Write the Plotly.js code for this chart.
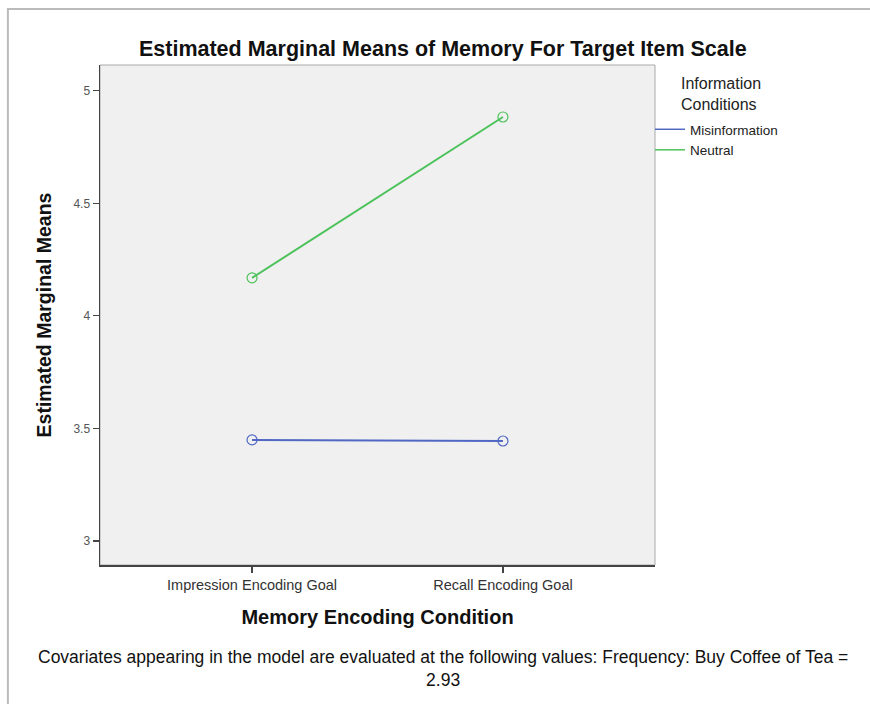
<!DOCTYPE html>
<html>
<head>
<meta charset="utf-8">
<script src="https://cdn.plot.ly/plotly-3.0.1.min.js"></script>
<style>html,body{margin:0;padding:0;background:#fff;}#chart{width:870px;height:704px;}</style>
</head>
<body>
<div id="chart"></div>
<script>
const categories = ["Impression Encoding Goal", "Recall Encoding Goal"];
const misinformation = [3.449, 3.444];
const neutral = [4.169, 4.884];
const seriesNames = ["Misinformation", "Neutral"];
const legendTitle = "Information<br>Conditions";
const yTickVals = [3, 3.5, 4, 4.5, 5];
const yTickText = ["3", "3.5", "4", "4.5", "5"];

const blue = "#5068c4";
const green = "#4cc25a";
const font = "Liberation Sans, Arial, sans-serif";

const traces = [
  {x: categories, y: misinformation, type: "scatter", mode: "lines+markers", name: seriesNames[0],
   line: {color: blue, width: 2}, marker: {symbol: "circle-open", size: 10, color: blue, line: {width: 1.2}}, showlegend: false},
  {x: categories, y: neutral, type: "scatter", mode: "lines+markers", name: seriesNames[1],
   line: {color: green, width: 2}, marker: {symbol: "circle-open", size: 10, color: green, line: {width: 1.2}}, showlegend: false},
  {x: [null], y: [null], type: "scatter", mode: "lines", name: seriesNames[0], line: {color: blue, width: 1.5}},
  {x: [null], y: [null], type: "scatter", mode: "lines", name: seriesNames[1], line: {color: green, width: 1.5}}
];

const layout = {
  width: 870, height: 704,
  margin: {l: 100, r: 215, t: 65, b: 139},
  paper_bgcolor: "#ffffff",
  plot_bgcolor: "#f0f0f0",
  font: {family: font, color: "#222"},
  title: {text: "<b>Estimated Marginal Means of Memory For Target Item Scale</b>",
          font: {size: 21.5, color: "#111", family: font},
          x: 0.509, xref: "container", xanchor: "center",
          y: 1 - 48/704, yref: "container", yanchor: "middle"},
  xaxis: {type: "category", range: [-0.606, 1.606], showgrid: false, zeroline: false,
          showline: true, linecolor: "#444", linewidth: 1.5,
          ticks: "outside", ticklen: 6, tickcolor: "#444", tickwidth: 1.2,
          tickfont: {size: 14.5, color: "#333"},
          title: {text: "<b>Memory Encoding Condition</b>", font: {size: 20, color: "#111"}, standoff: 18}},
  yaxis: {range: [2.893, 5.115], showgrid: false, zeroline: false,
          showline: true, linecolor: "#444", linewidth: 1.5,
          tickvals: yTickVals, ticktext: yTickText,
          ticks: "outside", ticklen: 6, tickcolor: "#444", tickwidth: 1.2,
          tickfont: {size: 12, color: "#555"},
          title: {text: "<b>Estimated Marginal Means</b>", font: {size: 19.5, color: "#111"}, standoff: 16}},
  legend: {x: (650 - 100)/555, xanchor: "left", y: (565 - 114)/500, yanchor: "top",
           bgcolor: "rgba(0,0,0,0)", font: {size: 13.5, color: "#222"},
           itemwidth: 30, tracegroupgap: 0},
  shapes: [
    {type: "rect", xref: "paper", yref: "paper", x0: 0, x1: 1, y0: 0, y1: 1,
     line: {color: "#aaaaaa", width: 1}, layer: "below"},
    {type: "path", xref: "paper", yref: "paper",
     path: "M -0.166 -0.3 L -0.166 1.112 L 1.4 1.112",
     line: {color: "#bbbbbb", width: 2}}
  ],
  annotations: [
    {text: legendTitle, xref: "paper", yref: "paper",
     x: (679 - 100)/555, y: (565 - 94)/500, xanchor: "left", yanchor: "middle",
     showarrow: false, align: "left", font: {size: 16, color: "#222"}},
    {text: "Covariates appearing in the model are evaluated at the following values: Frequency: Buy Coffee of Tea =<br>2.93",
     xref: "paper", yref: "paper", x: (443 - 100)/555, y: (565 - 668)/500,
     xanchor: "center", yanchor: "middle", showarrow: false, align: "center",
     font: {size: 17.5, color: "#111"}}
  ],
  showlegend: true
};

Plotly.newPlot("chart", traces, layout, {displayModeBar: false, staticPlot: true});
</script>
</body>
</html>
